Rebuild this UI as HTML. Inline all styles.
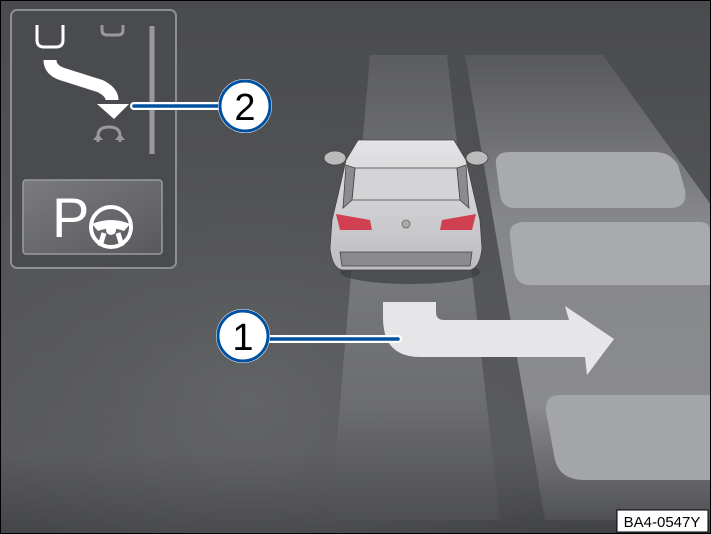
<!DOCTYPE html>
<html><head><style>
html,body{margin:0;padding:0;background:#fff}
svg{display:block}
</style></head><body>
<svg width="711" height="534" viewBox="0 0 711 534" xmlns="http://www.w3.org/2000/svg" font-family="Liberation Sans, sans-serif">
<defs>
<linearGradient id="bg" x1="0" y1="0" x2="0" y2="1">
<stop offset="0" stop-color="#4a4b4e"/><stop offset="0.5" stop-color="#545558"/><stop offset="0.85" stop-color="#5a5b5e"/><stop offset="1" stop-color="#404144"/>
</linearGradient>
<radialGradient id="glow" cx="0.35" cy="0.75" r="0.6">
<stop offset="0" stop-color="#6a6b6e" stop-opacity="0.6"/><stop offset="1" stop-color="#4a4b4e" stop-opacity="0"/>
</radialGradient>
<linearGradient id="lane" x1="0" y1="0" x2="0" y2="1">
<stop offset="0" stop-color="#5c5d60"/><stop offset="0.4" stop-color="#7a7b7e"/><stop offset="0.75" stop-color="#6c6d70"/><stop offset="1" stop-color="#4e4f52"/>
</linearGradient>
<linearGradient id="rlane" x1="0" y1="0" x2="0" y2="1">
<stop offset="0" stop-color="#58595c"/><stop offset="0.35" stop-color="#86878a"/><stop offset="0.75" stop-color="#8a8b8e"/><stop offset="1" stop-color="#505154"/>
</linearGradient>
<linearGradient id="car" x1="0" y1="0" x2="0" y2="1">
<stop offset="0" stop-color="#e4e4e6"/><stop offset="1" stop-color="#bdbdc0"/>
</linearGradient>
<linearGradient id="pbtn" x1="0" y1="0" x2="1" y2="1">
<stop offset="0" stop-color="#7a7b7e"/><stop offset="1" stop-color="#58595c"/>
</linearGradient>
</defs>
<rect width="711" height="534" fill="url(#bg)"/>
<rect width="711" height="534" fill="url(#glow)"/>
<polygon points="370,55 447,55 500,520 330,520" fill="url(#lane)"/>
<polygon points="465,55 603,55 711,205 711,520 545,520" fill="url(#rlane)"/>
<path d="M510,152 L655,152 Q670,152 678,165 L685,190 Q688,208 670,208 L515,208 Q502,208 500,195 L496,165 Q494,152 510,152 Z" fill="#a9aaad"/>
<path d="M525,222 L700,222 Q711,222 711,235 L711,285 L530,285 Q516,285 514,270 L510,237 Q508,222 525,222 Z" fill="#a9aaad"/>
<path d="M560,395 L711,395 L711,480 L585,480 Q560,480 555,460 L546,412 Q544,395 560,395 Z" fill="#a4a5a8"/>
<ellipse cx="410" cy="272" rx="70" ry="12" fill="#3c3d40" opacity="0.7"/>
<g stroke="#444" stroke-width="0.8">
<ellipse cx="335" cy="158" rx="11" ry="7" fill="#bbb"/>
<ellipse cx="477" cy="158" rx="11" ry="7" fill="#bbb"/>
<path d="M358,140 L454,140 L466,160 L474,195 L480,220 L482,248 Q480,268 470,270 L342,270 Q332,268 330,248 L332,220 L338,195 L346,160 Z" fill="url(#car)"/>
<path d="M355,168 L457,168 L460,200 L352,200 Z" fill="#d4d4d7"/>
<path d="M346,165 L355,168 L352,200 L343,208 Z M466,165 L457,168 L460,200 L469,208 Z" fill="#8c8c90"/>
<path d="M340,252 L472,252 L470,266 L342,266 Z" fill="#8a8a8d"/>
</g>
<path d="M336,214 L370,220 L372,230 L340,230 Z" fill="#d04050"/>
<path d="M476,214 L442,220 L440,230 L472,230 Z" fill="#d04050"/>
<circle cx="406" cy="224" r="4" fill="#aaa" stroke="#666" stroke-width="0.8"/>
<path d="M383,302 L436,302 L436,312 Q436,320 444,320 L569,320 L565,306 L614,339 L587,375 L585,357 L420,357 Q396,357 387,340 Q383,330 383,318 Z" fill="#e6e6e8"/>
<line x1="398" y1="339" x2="270" y2="339" stroke="#fff" stroke-width="8" stroke-linecap="round"/>
<line x1="398" y1="339" x2="270" y2="339" stroke="#0050a0" stroke-width="3.5" stroke-linecap="round"/>
<circle cx="243" cy="336" r="27" fill="#fff"/>
<circle cx="243" cy="336" r="25" fill="#fff" stroke="#0050a0" stroke-width="3"/>
<text x="243" y="350" font-size="38" text-anchor="middle" fill="#000">1</text>
<rect x="11" y="10" width="165" height="258" rx="6" fill="#4a4b4e" stroke="#8e8f92" stroke-width="2"/>
<path d="M37,25 L37,40 Q37,47 44,47 L56,47 Q63,47 63,40 L63,25" fill="none" stroke="#fff" stroke-width="3"/>
<path d="M102,25 L102,30 Q102,35 107,35 L118,35 Q123,35 123,30 L123,25" fill="none" stroke="#999" stroke-width="3"/>
<line x1="152" y1="26" x2="152" y2="154" stroke="#999" stroke-width="5"/>
<path d="M50,60 Q50,70 62,74 L100,86 Q112,92 112,100" fill="none" stroke="#fff" stroke-width="13"/>
<polygon points="97,104 129,104 114,119" fill="#fff"/>
<path d="M98,142 L98,136 Q98,127 109,127 Q120,127 120,136 L120,142" fill="none" stroke="#999" stroke-width="3"/>
<path d="M93,140 L103,140 L98,134Z M115,140 L125,140 L120,134Z" fill="#999"/>
<line x1="134" y1="106" x2="220" y2="106" stroke="#fff" stroke-width="8" stroke-linecap="round"/>
<line x1="134" y1="106" x2="220" y2="106" stroke="#0050a0" stroke-width="3.5" stroke-linecap="round"/>
<circle cx="245" cy="106" r="27" fill="#fff"/>
<circle cx="245" cy="106" r="25" fill="#fff" stroke="#0050a0" stroke-width="3"/>
<text x="245" y="120" font-size="38" text-anchor="middle" fill="#000">2</text>
<rect x="23" y="180" width="139" height="74" rx="3" fill="url(#pbtn)" stroke="#9a9b9e" stroke-width="1.5"/>
<text x="52" y="237" font-size="56" fill="#fff">P</text>
<circle cx="111" cy="227" r="20" fill="none" stroke="#fff" stroke-width="4"/>
<path d="M92,224 Q111,216 130,224 L124,231 Q111,226 98,231 Z" fill="#fff"/>
<circle cx="111" cy="230" r="5" fill="#fff"/>
<path d="M104,233 L100,246 M118,233 L122,246" stroke="#fff" stroke-width="5"/>
<rect x="617" y="510" width="91" height="22" fill="#fff" stroke="#000" stroke-width="1"/>
<text x="662" y="527" font-size="15" text-anchor="middle" fill="#000">BA4-0547Y</text>
<rect x="0.5" y="0.5" width="710" height="533" fill="none" stroke="#000" stroke-width="1"/>
</svg>
</body></html>
